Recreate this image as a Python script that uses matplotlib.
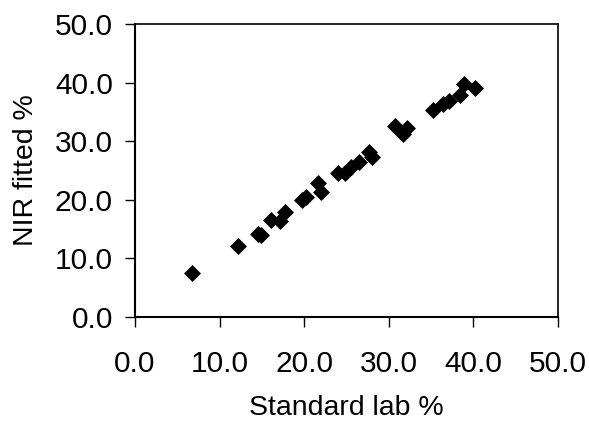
import matplotlib
matplotlib.use("Agg")
import matplotlib.pyplot as plt

standard_lab = [6.8, 12.2, 14.6, 14.9, 16.1, 17.2, 17.8, 19.8, 20.2, 21.6, 22.0,
                24.0, 24.8, 25.5, 26.5, 27.7, 28.0, 30.8, 31.7, 32.2, 35.2, 36.4,
                37.2, 38.5, 38.9, 40.2]
nir_fitted = [7.4, 12.1, 14.2, 14.0, 16.6, 16.4, 17.8, 19.9, 20.4, 22.9, 21.3,
              24.5, 24.6, 25.6, 26.5, 28.2, 27.3, 32.6, 31.2, 32.2, 35.3, 36.3,
              36.8, 37.9, 39.8, 39.1]
ticks = [0, 10, 20, 30, 40, 50]
tick_labels = ["0.0", "10.0", "20.0", "30.0", "40.0", "50.0"]

plt.rcParams['font.family'] = ['Liberation Sans', 'DejaVu Sans']

fig = plt.figure(figsize=(5.89, 4.22), dpi=100)
ax = fig.add_axes([135/589, (422-316.7)/422, 422.7/589, 292.7/422])

ax.plot(standard_lab, nir_fitted, linestyle='none', marker='D', markersize=7.8,
        color='black', markeredgewidth=0.5)

ax.set_xlim(0, 50)
ax.set_ylim(0, 50)
ax.set_xticks(ticks)
ax.set_xticklabels(tick_labels)
ax.set_yticks(ticks)
ax.set_yticklabels(tick_labels)
ax.tick_params(axis='both', direction='out', length=7, width=1, labelsize=21.5,
               colors='black')
ax.tick_params(axis='x', pad=17)
ax.tick_params(axis='y', pad=9)
for s in ax.spines.values():
    s.set_linewidth(1.2)
    s.set_color('black')
ax.spines['left'].set_linewidth(1.5)
ax.spines['bottom'].set_linewidth(1.5)

ax.set_xlabel("Standard lab %", fontsize=20.5, labelpad=12)
ax.set_ylabel("NIR fitted %", fontsize=20.5, labelpad=11)

fig.savefig("out.png", dpi=100)
